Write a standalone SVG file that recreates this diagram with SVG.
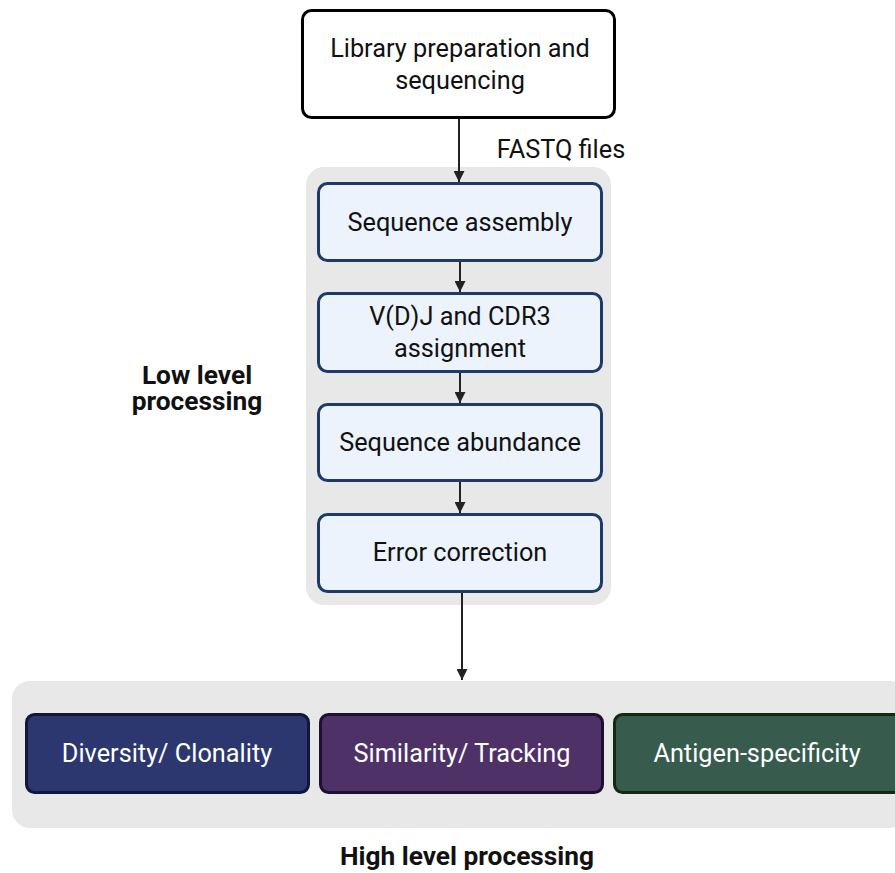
<svg xmlns="http://www.w3.org/2000/svg" width="895" height="873" viewBox="0 0 895 873">
<defs>
<marker id="ah" viewBox="0 0 10 10" refX="10" refY="5" markerWidth="5.5" markerHeight="5.5" orient="auto" markerUnits="strokeWidth"><path d="M0,0 L10,5 L0,10 z" fill="#222"/></marker>
</defs>
<style>
text{font-family:Roboto,"Liberation Sans",sans-serif;font-size:25.3px;text-anchor:middle;fill:#111}
.b{font-weight:bold;font-size:26.3px}
.w{fill:#fff}
.panel{fill:#e8e8e8}
.step{fill:#ecf3fc;stroke:#1d3a68;stroke-width:3}
.conn{stroke:#222;stroke-width:2;fill:none;marker-end:url(#ah)}
</style>
<rect width="895" height="873" fill="#fff"/>
<g id="panel-low"><rect class="panel" x="306" y="167" width="305" height="438" rx="18"/></g>
<g id="panel-high"><rect class="panel" x="12" y="681" width="895" height="147" rx="18"/></g>
<g id="connectors">
<line class="conn" x1="459" y1="118" x2="459" y2="182"/>
<line class="conn" x1="460" y1="262" x2="460" y2="292"/>
<line class="conn" x1="460" y1="373" x2="460" y2="403"/>
<line class="conn" x1="460" y1="482" x2="460" y2="513"/>
<line class="conn" x1="462" y1="593" x2="462" y2="680"/>
</g>
<g id="lib"><rect x="302.5" y="10.5" width="312" height="107" rx="9" fill="#fff" stroke="#000" stroke-width="3"/>
<text x="460" y="57">Library preparation and<tspan x="460" y="89">sequencing</tspan></text></g>
<text x="561" y="158">FASTQ files</text>
<g id="assembly"><rect class="step" x="318.5" y="183.5" width="283" height="77" rx="9"/><text x="460" y="231">Sequence assembly</text></g>
<g id="vdj"><rect class="step" x="318.5" y="293.5" width="283" height="78" rx="9"/><text x="460" y="325">V(D)J and CDR3<tspan x="460" y="357">assignment</tspan></text></g>
<g id="abundance"><rect class="step" x="318.5" y="404.5" width="283" height="76" rx="9"/><text x="460" y="451">Sequence abundance</text></g>
<g id="error"><rect class="step" x="318.5" y="514.5" width="283" height="77" rx="9"/><text x="460" y="561">Error correction</text></g>
<text class="b" x="197" y="384">Low level<tspan x="197" y="410">processing</tspan></text>
<g id="diversity"><rect x="26.5" y="714.5" width="282" height="78" rx="8" fill="#2b376e" stroke="#10173f" stroke-width="3"/><text class="w" x="167" y="762">Diversity/ Clonality</text></g>
<g id="similarity"><rect x="320.5" y="714.5" width="282" height="78" rx="8" fill="#4e3166" stroke="#1e1030" stroke-width="3"/><text class="w" x="462" y="762">Similarity/ Tracking</text></g>
<g id="antigen"><rect x="614.5" y="714.5" width="290" height="78" rx="8" fill="#375b4d" stroke="#142814" stroke-width="3"/><text class="w" x="757" y="762">Antigen-specificity</text></g>
<text class="b" x="467" y="865">High level processing</text>
</svg>
